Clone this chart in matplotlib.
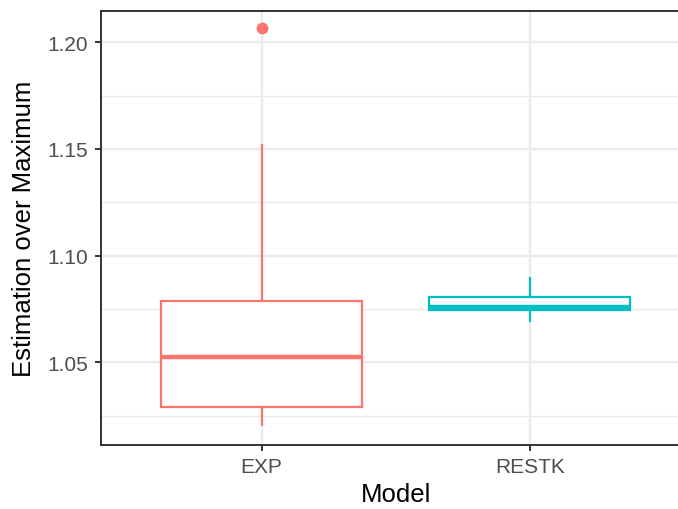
import matplotlib
matplotlib.use("Agg")
import matplotlib.pyplot as plt
from matplotlib.ticker import FixedLocator

plt.rcParams['font.family'] = ['Liberation Sans', 'DejaVu Sans']

# Data
models = ["EXP", "RESTK"]
colors = ["#F8766D", "#00BFC4"]
whislo = [1.0204, 1.0691]
q1 = [1.0289, 1.0746]
med = [1.0524, 1.0758]
q3 = [1.0789, 1.0808]
whishi = [1.152, 1.0894]
fliers = [[1.2066], []]

fig = plt.figure(figsize=(6.78, 5.10), dpi=100)
W, H = 678, 510
left, right, top, bottom = 100.7, 690.6, 11.7, 446.0
ax = fig.add_axes([left / W, 1 - bottom / H, (right - left) / W, (bottom - top) / H])

positions = list(range(1, len(models) + 1))
for i, m in enumerate(models):
    st = [dict(label=m, whislo=whislo[i], q1=q1[i], med=med[i], q3=q3[i],
               whishi=whishi[i], fliers=fliers[i])]
    c = colors[i]
    ax.bxp(st, positions=[positions[i]], widths=0.75, patch_artist=True,
           showcaps=False,
           boxprops=dict(facecolor="white", edgecolor=c, linewidth=1.6),
           medianprops=dict(color=c, linewidth=3.2, solid_capstyle="butt"),
           whiskerprops=dict(color=c, linewidth=1.6),
           flierprops=dict(marker="o", markerfacecolor=c, markeredgecolor=c,
                           markersize=7.5, linestyle="none"),
           zorder=3)

ax.set_xlim(0.4, 2.6)
ax.set_ylim(1.0112, 1.2148)
ax.set_xticks(positions)
ax.set_xticklabels(models)
ax.yaxis.set_major_locator(FixedLocator([1.05, 1.10, 1.15, 1.20]))
ax.yaxis.set_minor_locator(FixedLocator([1.025, 1.075, 1.125, 1.175]))
ax.set_yticklabels(["1.05", "1.10", "1.15", "1.20"])

ax.grid(True, which="major", color="#EBEBEB", linewidth=1.7, zorder=0)
ax.grid(True, which="minor", axis="y", color="#EBEBEB", linewidth=1.0, zorder=0)
ax.set_axisbelow(True)

for s in ax.spines.values():
    s.set_color("#333333")
    s.set_linewidth(1.4)

ax.tick_params(axis="both", which="major", colors="#333333", length=4, width=1.4,
               labelcolor="#4D4D4D", labelsize=15, pad=5)
ax.tick_params(axis="y", which="minor", length=0)

ax.set_xlabel("Model", fontsize=18.5, color="black", labelpad=4)
ax.set_ylabel("Estimation over Maximum", fontsize=18.5, color="black", labelpad=8)

fig.savefig("out.png", dpi=100)
